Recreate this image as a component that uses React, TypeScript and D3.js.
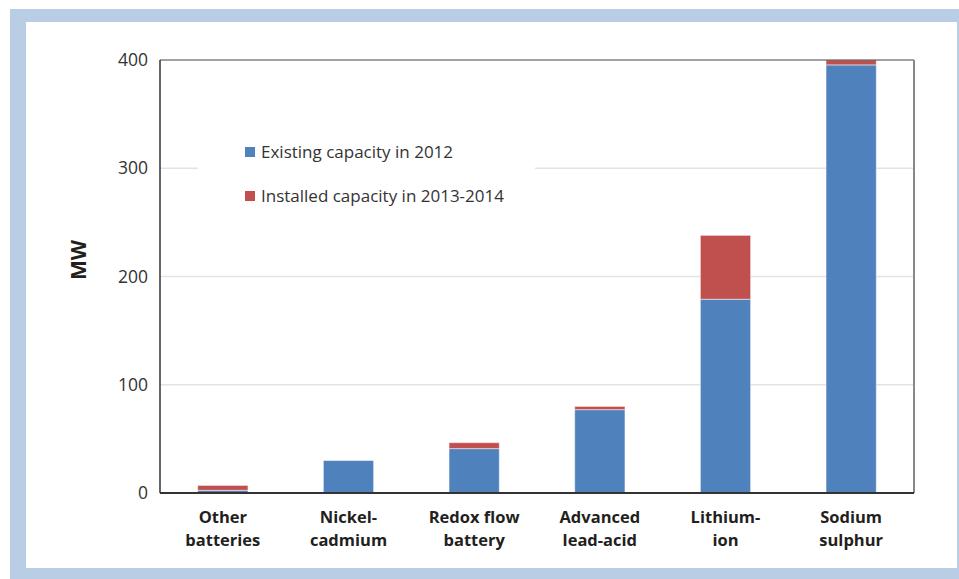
import React from "react";
import * as d3 from "d3";

const categories: string[][] = [
  ["Other", "batteries"],
  ["Nickel-", "cadmium"],
  ["Redox flow", "battery"],
  ["Advanced", "lead-acid"],
  ["Lithium-", "ion"],
  ["Sodium", "sulphur"],
];
const existing2012 = [2.5, 30, 41, 77, 179, 395.5];
const installed2013_2014 = [4.5, 0, 5.5, 3, 59, 4.5];
const yTicks = [0, 100, 200, 300, 400];
const seriesNames = ["Existing capacity in 2012", "Installed capacity in 2013-2014"];
const seriesColors = ["#4F81BD", "#C0504D"];

export default function App() {
  const W = 959, H = 579;
  const left = 160, right = 914, top = 60, bottom = 493;
  const x = d3.scaleBand<number>().domain(d3.range(categories.length)).range([left, right]).paddingInner(0.6).paddingOuter(0.3);
  const y = d3.scaleLinear().domain([0, 400]).range([bottom, top]);
  const font = "'Open Sans', 'DejaVu Sans', sans-serif";
  const stackData = categories.map((_, i) => ({ a: existing2012[i], b: installed2013_2014[i] }));
  const stacked = d3.stack<{ a: number; b: number }>().keys(["a", "b"])(stackData);
  return (
    <svg width={W} height={H} style={{ position: "absolute", left: 0, top: 0 }}>
      <rect x={10} y={9} width={W - 10} height={H - 9} fill="#B9CDE5" />
      <rect x={26} y={22} width={957 - 26} height={568 - 22} fill="#ffffff" />
      {yTicks.filter((t) => t > 0 && t < 400).map((t) => (
        <line key={t} x1={left} x2={right} y1={y(t)} y2={y(t)} stroke="#e3e3e3" strokeWidth={1.5} />
      ))}
      {/* legend background */}
      <rect x={198} y={132} width={337} height={82} fill="#ffffff" />
      {stacked.map((s, si) =>
        s.map((d, i) => {
          const h = y(d[0]) - y(d[1]);
          if (h <= 0) return null;
          return (
            <rect key={si + "-" + i} x={x(i)!} y={y(d[1])} width={x.bandwidth()} height={h}
              fill={seriesColors[si]} stroke="#ffffff" strokeOpacity={0.5} strokeWidth={1} />
          );
        })
      )}
      {/* plot border */}
      <line x1={left} x2={right} y1={top} y2={top} stroke="#444" strokeWidth={1.2} />
      <line x1={right} x2={right} y1={top} y2={bottom} stroke="#888" strokeWidth={2} />
      <line x1={left} x2={left} y1={top} y2={bottom} stroke="#333" strokeWidth={1.5} />
      <line x1={left} x2={right} y1={bottom} y2={bottom} stroke="#333" strokeWidth={2} />
      {yTicks.map((t) => (
        <text key={t} x={148} y={y(t)} dy="0.35em" textAnchor="end" fontFamily={font} fontSize={17.5} fill="#333">{t}</text>
      ))}
      {categories.map((c, i) => (
        <text key={i} textAnchor="middle" fontFamily={font} fontSize={16.5} fontWeight="bold" fill="#231f20">
          {c.map((ln, k) => (
            <tspan key={k} x={x(i)! + x.bandwidth() / 2} y={523 + k * 23}>{ln}</tspan>
          ))}
        </text>
      ))}
      <text transform={`translate(86,260) rotate(-90)`} textAnchor="middle" fontFamily={font} fontSize={21} fontWeight="bold" fill="#231f20">MW</text>
      {seriesNames.map((n, i) => (
        <g key={n}>
          <rect x={245} y={147 + i * 44} width={10} height={10} fill={seriesColors[i]} />
          <text x={261} y={152 + i * 44} dy="0.35em" fontFamily={font} fontSize={17} fill="#333">{n}</text>
        </g>
      ))}
    </svg>
  );
}
